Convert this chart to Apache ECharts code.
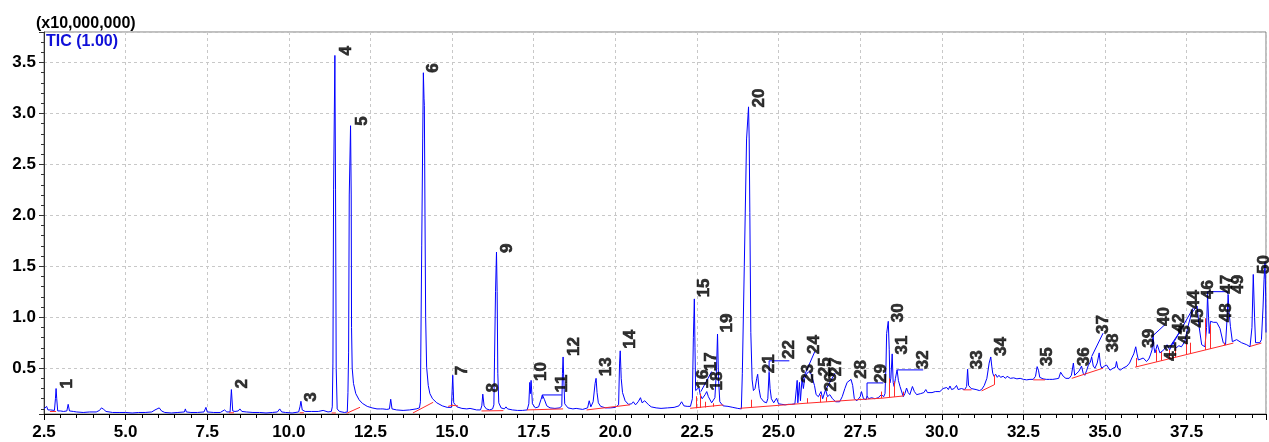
<!DOCTYPE html>
<html>
<head>
<meta charset="utf-8">
<script src="https://cdn.jsdelivr.net/npm/echarts@6/dist/echarts.min.js"></script>
<style>
html,body{margin:0;padding:0;background:#fff;}
#chart{width:1269px;height:442px;}
</style>
</head>
<body>
<div id="chart"></div>
<script>
// ---- Data (retention time in min, intensity in x10,000,000) ----
const xTicksMin = 2.5, xTicksMax = 39.93, xTickStep = 2.5;
const yMin = 0.05, yMax = 3.8;

const traceA = [[2.5,0.10],[2.55,0.10],[2.58,0.125],[2.62,0.09],[2.7,0.09],[2.76,0.08],[2.82,0.085],[2.85,0.2],[2.87,0.30],[2.89,0.2],[2.92,0.08],[3.0,0.08],[3.1,0.075],[3.2,0.08],[3.24,0.145],[3.28,0.08],[3.4,0.075],[3.5,0.07],[3.7,0.065],[3.9,0.07],[4.1,0.07],[4.2,0.085],[4.26,0.11],[4.33,0.095],[4.4,0.075],[4.6,0.065],[4.8,0.065],[5.0,0.065],[5.2,0.06],[5.4,0.065],[5.6,0.065],[5.8,0.07],[5.9,0.09],[5.95,0.08],[6.03,0.11],[6.1,0.08],[6.2,0.065],[6.4,0.06],[6.6,0.065],[6.8,0.07],[6.83,0.10],[6.86,0.07],[7.0,0.065],[7.2,0.065],[7.4,0.07],[7.46,0.115],[7.5,0.07],[7.7,0.065],[7.9,0.065],[8.03,0.09],[8.1,0.07],[8.2,0.07],[8.24,0.29],[8.28,0.08],[8.35,0.075],[8.45,0.08],[8.5,0.10],[8.56,0.075],[8.7,0.07],[8.9,0.065],[9.1,0.065],[9.3,0.06],[9.5,0.065],[9.65,0.07],[9.72,0.10],[9.78,0.07],[9.9,0.065],[10.1,0.06],[10.3,0.07],[10.34,0.12],[10.37,0.175],[10.41,0.09],[10.5,0.075],[10.7,0.075],[10.9,0.075],[11.05,0.085],[11.1,0.075],[11.2,0.07],[11.3,0.075]];

const traceB = [[11.33,0.12],[11.35,0.55],[11.37,2.25],[11.41,3.57],[11.43,2.25],[11.45,0.5],[11.48,0.1],[11.55,0.075],[11.7,0.065],[11.79,0.07],[11.81,0.26],[11.83,0.65],[11.85,2.2],[11.89,2.88],[11.91,2.2],[11.92,0.9],[11.94,0.5],[11.98,0.35],[12.05,0.25],[12.15,0.19],[12.25,0.155],[12.4,0.125],[12.55,0.11],[12.7,0.10],[12.8,0.10],[12.84,0.11],[12.88,0.10],[13.0,0.095],[13.08,0.10],[13.12,0.195],[13.16,0.10],[13.3,0.09],[13.5,0.085],[13.7,0.09],[13.9,0.10],[14.0,0.11],[14.03,0.17],[14.04,0.6],[14.07,1.7],[14.1,2.75],[14.12,3.40],[14.14,3.15],[14.15,3.08],[14.17,2.0],[14.19,1.0],[14.22,0.51],[14.27,0.33],[14.32,0.25],[14.4,0.2],[14.53,0.16],[14.7,0.13],[14.85,0.115],[14.98,0.115]];

const traceC = [[15.0,0.13],[15.02,0.43],[15.05,0.16],[15.1,0.14],[15.15,0.12],[15.3,0.105],[15.45,0.10],[15.55,0.105],[15.6,0.095],[15.75,0.09],[15.87,0.09],[15.91,0.13],[15.94,0.245],[15.98,0.13],[16.05,0.10],[16.15,0.09],[16.24,0.10],[16.28,0.14],[16.3,0.6],[16.33,1.25],[16.36,1.64],[16.38,1.25],[16.4,0.45],[16.43,0.16],[16.5,0.11],[16.6,0.10],[16.65,0.12],[16.7,0.10],[16.85,0.09],[17.0,0.085],[17.15,0.085],[17.3,0.09],[17.35,0.15],[17.38,0.36],[17.40,0.25],[17.42,0.38],[17.46,0.15],[17.55,0.11],[17.65,0.12],[17.72,0.19],[17.77,0.235],[17.83,0.19],[17.9,0.13],[18.0,0.11],[18.15,0.105],[18.3,0.11],[18.36,0.13],[18.38,0.45],[18.40,0.61],[18.42,0.4],[18.45,0.15],[18.55,0.11],[18.7,0.10],[18.8,0.105],[18.83,0.12],[18.86,0.10],[19.0,0.095],[19.15,0.11],[19.2,0.18],[19.25,0.12],[19.32,0.17],[19.38,0.35],[19.41,0.40],[19.44,0.26],[19.48,0.16],[19.55,0.125],[19.7,0.11],[19.85,0.11],[20.0,0.115],[20.1,0.14],[20.13,0.55],[20.15,0.67],[20.18,0.4],[20.22,0.26],[20.3,0.18],[20.4,0.145],[20.5,0.15],[20.55,0.17],[20.62,0.14],[20.7,0.17],[20.77,0.21],[20.82,0.16],[20.9,0.18],[20.96,0.19],[21.02,0.14],[21.1,0.12],[21.25,0.11],[21.4,0.105],[21.6,0.11],[21.8,0.115],[21.95,0.13],[22.03,0.17],[22.1,0.13],[22.2,0.125],[22.3,0.125],[22.36,0.2]];

const traceD = [[22.39,0.8],[22.42,1.18],[22.44,0.7],[22.46,0.28],[22.52,0.28],[22.56,0.31],[22.6,0.24],[22.66,0.2],[22.69,0.19],[22.75,0.24],[22.8,0.27],[22.85,0.22],[22.95,0.16],[23.05,0.21],[23.1,0.5],[23.13,0.835],[23.16,0.4],[23.2,0.17],[23.3,0.13],[23.45,0.125],[23.6,0.115],[23.75,0.105],[23.86,0.10],[23.89,0.45],[23.95,1.5],[24.02,2.75],[24.08,3.065],[24.1,2.75],[24.12,2.03],[24.15,0.85],[24.19,0.385],[24.23,0.28],[24.28,0.3],[24.33,0.40],[24.36,0.44],[24.4,0.3],[24.45,0.21],[24.55,0.17],[24.63,0.16],[24.67,0.2],[24.71,0.46],[24.74,0.3],[24.78,0.2],[24.85,0.16],[24.94,0.205],[25.0,0.15],[25.1,0.145],[25.2,0.14],[25.3,0.145],[25.4,0.145],[25.5,0.15],[25.55,0.16],[25.57,0.38],[25.59,0.16],[25.62,0.17],[25.64,0.36],[25.67,0.18],[25.72,0.40],[25.76,0.3],[25.8,0.40],[25.87,0.45],[25.95,0.47],[26.0,0.44],[26.05,0.43],[26.1,0.33],[26.15,0.24],[26.22,0.22],[26.3,0.27],[26.35,0.2],[26.44,0.29],[26.5,0.22],[26.57,0.24],[26.65,0.2],[26.75,0.17],[26.87,0.17],[26.95,0.22],[27.03,0.3],[27.1,0.36],[27.22,0.39],[27.27,0.33],[27.32,0.2],[27.4,0.18],[27.5,0.22],[27.54,0.27],[27.6,0.2],[27.68,0.19],[27.71,0.227],[27.76,0.2],[27.85,0.21],[27.95,0.2],[28.05,0.21],[28.15,0.24],[28.22,0.22]];

const traceE = [[28.26,0.25],[28.29,0.52],[28.31,0.84],[28.36,0.96],[28.39,0.68],[28.41,0.355],[28.44,0.4],[28.48,0.64],[28.51,0.36],[28.54,0.32],[28.58,0.4],[28.63,0.485],[28.67,0.38],[28.72,0.32],[28.82,0.22],[28.87,0.25],[28.92,0.305],[28.97,0.26],[29.02,0.24],[29.1,0.32],[29.16,0.27],[29.23,0.24],[29.35,0.25],[29.45,0.26],[29.51,0.29],[29.56,0.26],[29.7,0.26],[29.8,0.27],[29.94,0.27],[30.04,0.30],[30.1,0.29],[30.15,0.31],[30.2,0.29],[30.25,0.325],[30.3,0.29],[30.38,0.3],[30.45,0.33],[30.5,0.29],[30.6,0.3],[30.7,0.29],[30.76,0.32],[30.79,0.49],[30.82,0.33],[30.9,0.3],[30.96,0.31],[31.05,0.29],[31.15,0.28],[31.22,0.29],[31.3,0.33],[31.38,0.4],[31.45,0.55],[31.5,0.61],[31.53,0.52],[31.56,0.45],[31.6,0.42],[31.65,0.44],[31.7,0.41],[31.75,0.43],[31.8,0.41],[31.88,0.42],[31.95,0.40],[32.0,0.42],[32.1,0.40],[32.2,0.405],[32.3,0.395],[32.4,0.40],[32.5,0.39],[32.6,0.385],[32.7,0.39],[32.8,0.39],[32.87,0.42],[32.92,0.515],[32.96,0.48],[33.0,0.41],[33.1,0.395],[33.2,0.39],[33.3,0.39],[33.4,0.39],[33.5,0.395],[33.58,0.40],[33.64,0.46],[33.72,0.42],[33.8,0.40],[33.9,0.40],[33.97,0.43]];

const traceF = [[34.03,0.55],[34.07,0.43],[34.12,0.43],[34.2,0.47],[34.28,0.52],[34.33,0.45],[34.38,0.43],[34.44,0.48],[34.49,0.53],[34.55,0.56],[34.59,0.61],[34.64,0.52],[34.69,0.50],[34.76,0.55],[34.82,0.65],[34.86,0.53],[34.9,0.50],[34.98,0.52],[35.05,0.53],[35.15,0.48],[35.25,0.50],[35.32,0.51],[35.35,0.565],[35.39,0.50],[35.46,0.48],[35.55,0.50],[35.67,0.52],[35.75,0.55],[35.82,0.60],[35.88,0.64],[35.94,0.71],[35.98,0.64],[36.02,0.58],[36.1,0.59],[36.17,0.60],[36.27,0.565],[36.34,0.59],[36.39,0.63],[36.44,0.68],[36.47,0.83],[36.5,0.70],[36.53,0.65],[36.6,0.73],[36.68,0.65],[36.74,0.66],[36.8,0.68],[36.9,0.73],[36.98,0.68],[37.08,0.75],[37.18,0.70],[37.26,0.72],[37.34,0.71],[37.44,0.76],[37.54,0.91],[37.65,1.04],[37.75,1.08],[37.82,1.11],[37.88,0.91],[37.96,0.73],[38.06,0.71],[38.11,0.9],[38.14,1.22],[38.17,1.0],[38.19,0.84],[38.23,0.96],[38.32,0.95],[38.42,0.95],[38.52,0.89],[38.62,0.75],[38.69,0.73],[38.74,1.0],[38.77,1.22],[38.8,1.05],[38.84,0.91],[38.9,0.76],[39.03,0.78],[39.18,0.75],[39.34,0.73],[39.44,0.71],[39.5,0.9],[39.54,1.42],[39.58,1.0],[39.61,0.75],[39.74,0.75],[39.79,0.78],[39.84,1.1],[39.87,1.37],[39.9,1.54],[39.92,1.2],[39.93,0.85]];

// integration baselines (red)
const baselineSegs = [
 [[2.68,0.075],[2.87,0.075]],
 [[8.17,0.062],[8.32,0.062]],
 [[10.33,0.062],[10.46,0.062]],
 [[11.31,0.06],[11.44,0.06]],
 [[11.77,0.057],[12.18,0.116]],
 [[13.80,0.06],[14.42,0.165]],
 [[14.88,0.125],[15.0,0.135],[15.18,0.13]],
 [[15.9,0.08],[16.57,0.083]],
 [[17.29,0.09],[18.40,0.10]],
 [[19.12,0.09],[20.45,0.14]],
 [[22.29,0.106],[23.31,0.139]],
 [[23.82,0.106],[25.81,0.155],[27.39,0.19],[27.65,0.195],[28.16,0.205],[28.82,0.227]],
 [[30.66,0.287],[30.91,0.287]],
 [[31.22,0.277],[31.6,0.336]],
 [[32.80,0.385],[33.16,0.385]],
 [[33.98,0.40],[34.94,0.50]],
 [[35.92,0.51],[38.93,0.746]],
 [[39.44,0.713],[39.79,0.746]]
];
// red drop lines [t, bottom, top]
const dropLines = [[22.49,0.106,0.224],[22.61,0.11,0.25],[22.75,0.114,0.17],[23.0,0.122,0.155],[24.17,0.118,0.19],[25.89,0.157,0.205],[26.29,0.165,0.237],[26.45,0.17,0.215],[28.16,0.205,0.27],[28.39,0.214,0.40],[28.54,0.218,0.37],[28.82,0.227,0.27],[31.6,0.336,0.434],[35.97,0.514,0.60],[36.58,0.562,0.68],[36.71,0.572,0.66],[36.97,0.592,0.68],[37.14,0.606,0.71],[37.48,0.632,0.78],[37.6,0.642,0.75],[38.06,0.678,0.99],[38.21,0.69,0.93],[38.64,0.724,0.75]];
// blue label leader lines
const leaderLines = [
 [[17.76,0.20],[17.76,0.237],[18.36,0.237]],
 [[22.62,0.27],[22.95,0.467]],
 [[24.71,0.464],[24.71,0.572],[25.33,0.572]],
 [[25.71,0.368],[26.11,0.663]],
 [[26.44,0.286],[26.73,0.451]],
 [[27.71,0.227],[27.71,0.355],[28.21,0.355]],
 [[28.64,0.483],[29.43,0.483]],
 [[34.59,0.614],[34.94,0.844]],
 [[36.50,0.828],[36.83,0.926]],
 [[36.99,0.713],[37.29,0.857]],
 [[37.09,0.746],[37.70,1.09]],
 [[38.14,1.22],[38.14,1.251],[38.75,1.251],[38.77,1.22]]
];
// peak number label anchors (start of vertical text)
const peakLabelPos = [[3.20,0.30],[8.56,0.30],[10.70,0.17],[11.77,3.57],[12.24,2.88],[14.41,3.40],[15.32,0.43],[16.27,0.26],[16.68,1.63],[17.72,0.375],[18.37,0.26],[18.75,0.62],[19.73,0.42],[20.46,0.69],[22.73,1.195],[22.71,0.30],[22.94,0.47],[23.13,0.28],[23.43,0.85],[24.41,3.06],[24.71,0.45],[25.32,0.59],[25.90,0.355],[26.08,0.64],[26.44,0.42],[26.63,0.27],[26.78,0.42],[27.54,0.395],[28.16,0.355],[28.68,0.95],[28.79,0.635],[29.43,0.49],[31.10,0.49],[31.83,0.62],[33.24,0.52],[34.37,0.52],[34.94,0.835],[35.24,0.655],[36.35,0.70],[36.80,0.915],[37.03,0.57],[37.28,0.85],[37.45,0.735],[37.72,1.08],[37.87,0.90],[38.17,1.18],[38.74,1.23],[38.72,0.95],[39.08,1.23],[39.89,1.425]];
const peakNames = peakLabelPos.map((p, i) => String(i + 1));

const FONT = '"Liberation Sans", Arial, sans-serif';
const trace = [].concat(traceA, traceB, traceC, traceD, traceE, traceF);

const chart = echarts.init(document.getElementById('chart'), null, {renderer: 'canvas'});
chart.setOption({
  animation: false,
  backgroundColor: '#ffffff',
  grid: {left: 44, right: 3, top: 32, bottom: 28, show: true, borderColor: '#7f7f7f', borderWidth: 1, backgroundColor: 'transparent', containLabel: false, outerBoundsMode: 'none'},
  xAxis: {
    type: 'value', min: xTicksMin, max: xTicksMax, interval: xTickStep,
    axisLine: {show: true, onZero: false, lineStyle: {color: '#000', width: 1}},
    axisTick: {show: true, length: 6, lineStyle: {color: '#000'}},
    minorTick: {show: true, splitNumber: 5, length: 4, lineStyle: {color: '#000'}},
    axisLabel: {show: true, margin: 10, color: '#000', fontFamily: FONT, fontWeight: 'bold', fontSize: 17,
      showMaxLabel: false, formatter: v => v.toFixed(1)},
    splitLine: {show: true, lineStyle: {color: '#c8c8c8', width: 1, type: [3, 3]}}
  },
  yAxis: {
    type: 'value', min: yMin, max: yMax, splitNumber: 8, minInterval: 0.5, maxInterval: 0.5,
    axisLine: {show: true, lineStyle: {color: '#333', width: 1}},
    axisTick: {show: true, length: 5, lineStyle: {color: '#333'}},
    minorTick: {show: true, splitNumber: 5, length: 3, lineStyle: {color: '#333'}},
    axisLabel: {show: true, margin: 8, color: '#000', fontFamily: FONT, fontWeight: 'bold', fontSize: 17,
      showMinLabel: false, showMaxLabel: false, formatter: v => v.toFixed(1)},
    splitLine: {show: true, lineStyle: {color: '#c8c8c8', width: 1, type: [3, 3]}}
  },
  graphic: [
    {type: 'text', x: 36, y: 23.5, z: 100, style: {text: '(x10,000,000)', font: 'bold 16px ' + FONT, fill: '#000', align: 'left', verticalAlign: 'middle'}},
    {type: 'text', x: 46, y: 41.5, z: 100, style: {text: 'TIC (1.00)', font: 'bold 16px ' + FONT, fill: '#1010d8', align: 'left', verticalAlign: 'middle'}}
  ],
  series: [
    {type: 'line', data: trace, symbol: 'none', showSymbol: false, clip: true, z: 3,
     lineStyle: {color: '#0000ff', width: 1}, silent: true},
    {type: 'lines', coordinateSystem: 'cartesian2d', polyline: true, z: 4, silent: true,
     data: baselineSegs.map(c => ({coords: c})), lineStyle: {color: '#ff2a2a', width: 1, opacity: 1}},
    {type: 'lines', coordinateSystem: 'cartesian2d', polyline: false, z: 4, silent: true,
     data: dropLines.map(d => ({coords: [[d[0], d[1]], [d[0], d[2]]]})), lineStyle: {color: '#ff2a2a', width: 1, opacity: 1}},
    {type: 'lines', coordinateSystem: 'cartesian2d', polyline: true, z: 4, silent: true,
     data: leaderLines.map(c => ({coords: c})), lineStyle: {color: '#0000ff', width: 1, opacity: 1}},
    {type: 'scatter', z: 6, silent: true, symbolSize: 0.1, itemStyle: {color: 'rgba(0,0,0,0)'},
     data: peakLabelPos.map((p, i) => ({name: peakNames[i], value: p})),
     label: {show: true, position: 'inside', formatter: '{b}', rotate: 90, align: 'left', verticalAlign: 'middle',
       color: '#000', fontFamily: FONT, fontWeight: 'bold', fontSize: 17, textBorderColor: '#000', textBorderWidth: 0.6}}
  ]
});
</script>
</body>
</html>
